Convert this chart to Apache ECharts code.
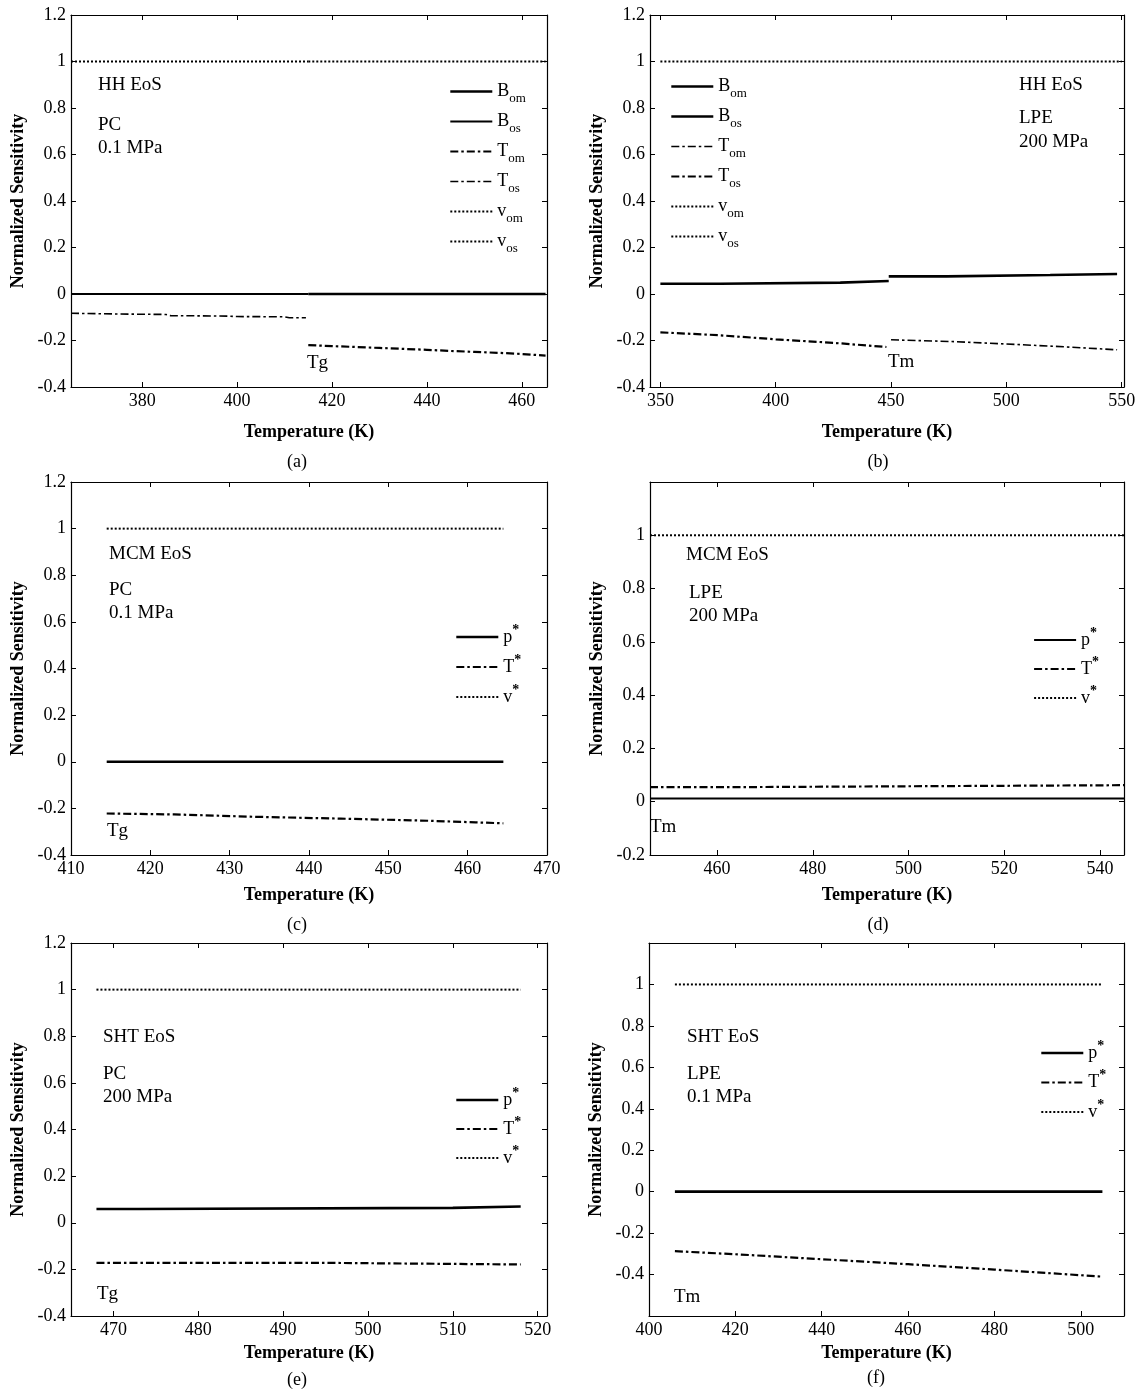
<!DOCTYPE html>
<html>
<head>
<meta charset="utf-8">
<script src="https://cdn.jsdelivr.net/npm/echarts@6/dist/echarts.min.js"></script>
<style>
html, body { margin: 0; padding: 0; background: #fff; }
#main { width: 1148px; height: 1396px; }
</style>
</head>
<body>
<div id="main"></div>
<script>
// ---- values ----
// (a) HH EoS, PC, 0.1 MPa
var aBos = [[365, 0], [415, 0]];
var aBom = [[415, 0], [465, 0]];
var aTos = [[365, -0.083], [375, -0.086], [385, -0.088], [386, -0.093], [398, -0.095], [400, -0.097], [410, -0.098], [411, -0.102], [414.5, -0.102]];
var aTom = [[415, -0.220], [420, -0.224], [430, -0.232], [440, -0.240], [445, -0.245], [450, -0.249], [455, -0.253], [460, -0.258], [465, -0.265]];
var aVos = [[365, 1], [415, 1]];
var aVom = [[415, 1], [465, 1]];

// (b) HH EoS, LPE, 200 MPa
var bBos = [[350, 0.044], [376, 0.044], [376, 0.049], [428, 0.049], [428, 0.056], [449, 0.056]];
var bBom = [[449, 0.076], [474, 0.076], [474, 0.082], [519, 0.082], [519, 0.086], [548, 0.086]];
var bTos = [[350, -0.165], [375, -0.177], [400, -0.195], [425, -0.210], [448, -0.228]];
var bTom = [[450, -0.197], [475, -0.204], [500, -0.215], [525, -0.227], [548, -0.240]];
var bVos = [[350, 1], [449, 1]];
var bVom = [[449, 1], [550, 1]];

// (c) MCM EoS, PC, 0.1 MPa
var cP = [[414.5, 0], [464.5, 0]];
var cT = [[414.5, -0.222], [423, -0.226], [433, -0.236], [444, -0.244], [455, -0.253], [461, -0.260], [464.5, -0.264]];
var cV = [[414.5, 1], [464.5, 1]];

// (d) MCM EoS, LPE, 200 MPa
var dP = [[446, 0.012], [545, 0.012]];
var dT = [[446, 0.055], [467, 0.055], [467, 0.062], [545, 0.062]];
var dV = [[446, 1], [545, 1]];

// (e) SHT EoS, PC, 200 MPa
var eP = [[468, 0.059], [473, 0.059], [473, 0.064], [510, 0.064], [510, 0.070], [518, 0.070]];
var eT = [[468, -0.172], [495, -0.172], [495, -0.179], [518, -0.179]];
var eV = [[468, 1], [518, 1]];

// (f) SHT EoS, LPE, 0.1 MPa
var fP = [[406, 0], [505, 0]];
var fT = [[406, -0.287], [420, -0.302], [440, -0.326], [460, -0.350], [480, -0.376], [505, -0.410]];
var fV = [[406, 1], [505, 1]];

// tick labels
var yTicksFull = [-0.4, -0.2, 0, 0.2, 0.4, 0.6, 0.8, 1, 1.2];
var yTicksD = [-0.2, 0, 0.2, 0.4, 0.6, 0.8, 1];
var yTicksF = [-0.4, -0.2, 0, 0.2, 0.4, 0.6, 0.8, 1];
var xTicksA = [380, 400, 420, 440, 460];
var xTicksB = [350, 400, 450, 500, 550];
var xTicksC = [410, 420, 430, 440, 450, 460, 470];
var xTicksD = [460, 480, 500, 520, 540];
var xTicksE = [470, 480, 490, 500, 510, 520];
var xTicksF = [400, 420, 440, 460, 480, 500];

// legend labels (rich text: s = subscript, u = superscript)
var legendText = {
    a_Bom: '{m|B}{s|om}', a_Bos: '{m|B}{s|os}', a_Tom: '{m|T}{s|om}', a_Tos: '{m|T}{s|os}', a_vom: '{m|v}{s|om}', a_vos: '{m|v}{s|os}',
    b_Bom: '{m|B}{s|om}', b_Bos: '{m|B}{s|os}', b_Tom: '{m|T}{s|om}', b_Tos: '{m|T}{s|os}', b_vom: '{m|v}{s|om}', b_vos: '{m|v}{s|os}',
    c_p: '{m|p}{u|*}', c_T: '{m|T}{u|*}', c_v: '{m|v}{u|*}',
    d_p: '{m|p}{u|*}', d_T: '{m|T}{u|*}', d_v: '{m|v}{u|*}',
    e_p: '{m|p}{u|*}', e_T: '{m|T}{u|*}', e_v: '{m|v}{u|*}',
    f_p: '{m|p}{u|*}', f_T: '{m|T}{u|*}', f_v: '{m|v}{u|*}'
};

var FONT = '"Liberation Serif", "Times New Roman", serif';

var styles = {
    solidThick: { width: 2.6, type: 'solid' },
    solidMid: { width: 2, type: 'solid' },
    solidThin: { width: 1.8, type: 'solid' },
    dashThick: { width: 2.2, type: [8, 3, 2.5, 3] },
    dashThin: { width: 1.6, type: [8, 3, 2.5, 3] },
    dot: { width: 2, type: [2, 2] }
};

var panels = [
    { box: [71, 15, 476, 372], x: [365, 465.3], y: [-0.4, 1.2], xt: xTicksA, yt: yTicksFull, gap: 36,
      series: [['a_Bom', aBom, 'solidThick'], ['a_Bos', aBos, 'solidThin'], ['a_Tom', aTom, 'dashThick'],
               ['a_Tos', aTos, 'dashThin'], ['a_vom', aVom, 'dot'], ['a_vos', aVos, 'dot']],
      legend: [449, 78, 3],
      notes: [['HH EoS', 98, 85], ['PC', 98, 125], ['0.1 MPa', 98, 148], ['Tg', 307, 363]],
      caption: ['(a)', 297, 462] },
    { box: [650, 15, 474, 372], x: [345.5, 551], y: [-0.4, 1.2], xt: xTicksB, yt: yTicksFull, gap: 36,
      series: [['b_Bom', bBom, 'solidThick'], ['b_Bos', bBos, 'solidThick'], ['b_Tom', bTom, 'dashThin'],
               ['b_Tos', bTos, 'dashThick'], ['b_vom', bVom, 'dot'], ['b_vos', bVos, 'dot']],
      legend: [670, 73, 3],
      notes: [['HH EoS', 1019, 85], ['LPE', 1019, 118], ['200 MPa', 1019, 142], ['Tm', 888, 362]],
      caption: ['(b)', 878, 462] },
    { box: [71, 482, 476, 373], x: [410, 470], y: [-0.4, 1.2], xt: xTicksC, yt: yTicksFull, gap: 31,
      series: [['c_p', cP, 'solidThick'], ['c_T', cT, 'dashThick'], ['c_v', cV, 'dot']],
      legend: [455, 623, 2],
      notes: [['MCM EoS', 109, 554], ['PC', 109, 590], ['0.1 MPa', 109, 613], ['Tg', 107, 831]],
      caption: ['(c)', 297, 925] },
    { box: [650, 482, 474, 373], x: [446, 545], y: [-0.2, 1.2], xt: xTicksD, yt: yTicksD, gap: 31,
      series: [['d_p', dP, 'solidMid'], ['d_T', dT, 'dashThick'], ['d_v', dV, 'dot']],
      legend: [1033, 626, 1],
      notes: [['MCM EoS', 686, 555], ['LPE', 689, 593], ['200 MPa', 689, 616], ['Tm', 650, 827]],
      caption: ['(d)', 878, 925] },
    { box: [71, 943, 476, 373], x: [465, 521.1], y: [-0.4, 1.2], xt: xTicksE, yt: yTicksFull, gap: 28,
      series: [['e_p', eP, 'solidThick'], ['e_T', eT, 'dashThick'], ['e_v', eV, 'dot']],
      legend: [455, 1086, 1],
      notes: [['SHT EoS', 103, 1037], ['PC', 103, 1074], ['200 MPa', 103, 1097], ['Tg', 97, 1294]],
      caption: ['(e)', 297, 1380] },
    { box: [649, 943, 475, 373], x: [400, 510], y: [-0.6, 1.2], xt: xTicksF, yt: yTicksF, gap: 28,
      series: [['f_p', fP, 'solidThick'], ['f_T', fT, 'dashThick'], ['f_v', fV, 'dot']],
      legend: [1040, 1039, 1.5],
      notes: [['SHT EoS', 687, 1037], ['LPE', 687, 1074], ['0.1 MPa', 687, 1097], ['Tm', 674, 1297]],
      caption: ['(f)', 876, 1378] }
];

var axisLine = { show: true, onZero: false, lineStyle: { color: '#000', width: 1.2 } };

var grids = [], xAxes = [], yAxes = [], series = [], legends = [], graphics = [];

panels.forEach(function (p, i) {
    grids.push({ left: p.box[0], top: p.box[1], width: p.box[2], height: p.box[3], containLabel: false });

    var tick = function (vals) {
        return { show: true, inside: true, length: 5, customValues: vals, lineStyle: { color: '#000', width: 1 } };
    };

    xAxes.push({
        type: 'value', gridIndex: i, position: 'bottom', min: p.x[0], max: p.x[1],
        axisLine: axisLine, axisTick: tick(p.xt), splitLine: { show: false },
        axisLabel: { customValues: p.xt, color: '#000', fontFamily: FONT, fontSize: 18, margin: 5 },
        name: 'Temperature (K)', nameLocation: 'middle', nameGap: p.gap,
        nameTextStyle: { color: '#000', fontFamily: FONT, fontSize: 18, fontWeight: 'bold' }
    });
    xAxes.push({
        type: 'value', gridIndex: i, position: 'top', min: p.x[0], max: p.x[1],
        axisLine: axisLine, axisTick: tick(p.xt), splitLine: { show: false }, axisLabel: { show: false }
    });
    yAxes.push({
        type: 'value', gridIndex: i, position: 'left', min: p.y[0], max: p.y[1],
        axisLine: axisLine, axisTick: tick(p.yt), splitLine: { show: false },
        axisLabel: { customValues: p.yt, color: '#000', fontFamily: FONT, fontSize: 18, margin: 5 },
        name: 'Normalized Sensitivity', nameLocation: 'middle', nameGap: 44,
        nameTextStyle: { color: '#000', fontFamily: FONT, fontSize: 18, fontWeight: 'bold' }
    });
    yAxes.push({
        type: 'value', gridIndex: i, position: 'right', min: p.y[0], max: p.y[1],
        axisLine: axisLine, axisTick: tick(p.yt), splitLine: { show: false }, axisLabel: { show: false }
    });

    p.series.forEach(function (s) {
        var st = styles[s[2]];
        series.push({
            type: 'line', name: s[0], xAxisIndex: 2 * i, yAxisIndex: 2 * i,
            data: s[1], symbol: 'none', silent: true, animation: false,
            itemStyle: { color: '#000' },
            lineStyle: { color: '#000', width: st.width, type: st.type }
        });
    });

    legends.push({
        orient: 'vertical', left: p.legend[0], top: p.legend[1], itemGap: p.legend[2],
        padding: 0, itemWidth: 42, itemHeight: 14, selectedMode: false,
        data: p.series.map(function (s) { return s[0]; }),
        lineStyle: { width: 'inherit' },
        itemStyle: { color: 'rgba(0,0,0,0)', borderWidth: 0, opacity: 0 },
        formatter: function (name) { return legendText[name]; },
        textStyle: {
            color: '#000', fontFamily: FONT, fontSize: 18,
            rich: {
                m: { fontFamily: FONT, fontSize: 18, lineHeight: 14, color: '#000' },
                s: { fontFamily: FONT, fontSize: 13, lineHeight: 14, padding: [14, 0, 0, 0], color: '#000' },
                u: { fontFamily: FONT, fontSize: 14, fontWeight: 'bold', lineHeight: 14, padding: [0, 0, 14, 0], color: '#000' }
            }
        }
    });

    p.notes.forEach(function (n) {
        graphics.push({
            type: 'text', x: n[1], y: n[2], silent: true,
            style: { text: n[0], fill: '#000', font: '19px ' + FONT, align: 'left', verticalAlign: 'middle' }
        });
    });
    graphics.push({
        type: 'text', x: p.caption[1], y: p.caption[2], silent: true,
        style: { text: p.caption[0], fill: '#000', font: '18px ' + FONT, align: 'center', verticalAlign: 'middle' }
    });
});

var chart = echarts.init(document.getElementById('main'));
chart.setOption({
    backgroundColor: '#fff',
    animation: false,
    grid: grids,
    xAxis: xAxes,
    yAxis: yAxes,
    legend: legends,
    series: series,
    graphic: graphics
});
</script>
</body>
</html>
